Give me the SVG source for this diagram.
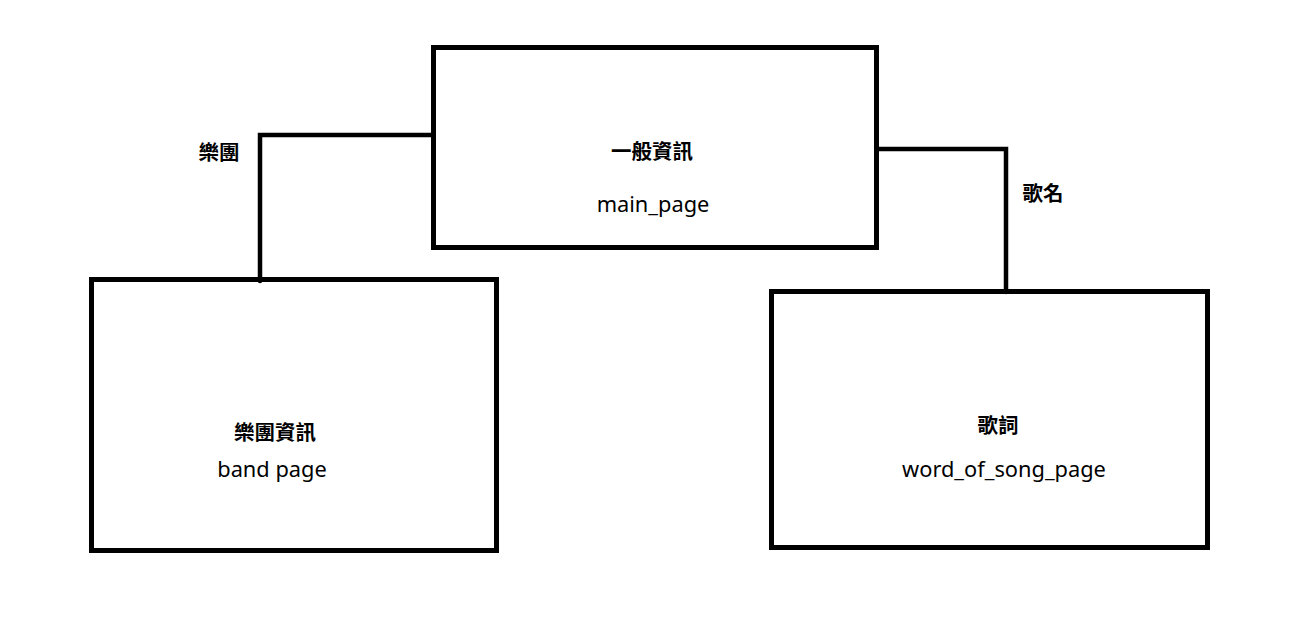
<svg xmlns="http://www.w3.org/2000/svg" width="1294" height="634" viewBox="0 0 1294 634">
<style>
.box{fill:none;stroke:#000;stroke-width:5}
.conn{fill:none;stroke:#000;stroke-width:4.5;stroke-linecap:round;stroke-linejoin:miter}
.cjk{font-family:"Noto Sans CJK TC","Noto Sans",sans-serif;font-size:20.5px;font-weight:bold;fill:#000;text-anchor:middle}
.lat{font-family:"Noto Sans","Open Sans",sans-serif;font-size:21.8px;fill:#000;text-anchor:middle}
</style>
<rect width="1294" height="634" fill="#fff"/>
<g id="connectors">
<polyline class="conn" points="432,135 260,135 260,281"/>
<polyline class="conn" points="878,149 1006,149 1006,292"/>
<text class="cjk" x="219" y="160">樂團</text>
<text class="cjk" x="1043" y="201">歌名</text>
</g>
<g id="main_page">
<rect class="box" x="433.5" y="47.5" width="443" height="200"/>
<text class="cjk" x="652" y="159">一般資訊</text>
<text class="lat" x="653" y="212">main_page</text>
</g>
<g id="band_page">
<rect class="box" x="91.5" y="279.5" width="405" height="271"/>
<text class="cjk" x="275" y="440">樂團資訊</text>
<text class="lat" x="272" y="477">band page</text>
</g>
<g id="word_of_song_page">
<rect class="box" x="771.5" y="291.5" width="436" height="256"/>
<text class="cjk" x="998" y="433">歌詞</text>
<text class="lat" x="1004" y="477">word_of_song_page</text>
</g>
</svg>
